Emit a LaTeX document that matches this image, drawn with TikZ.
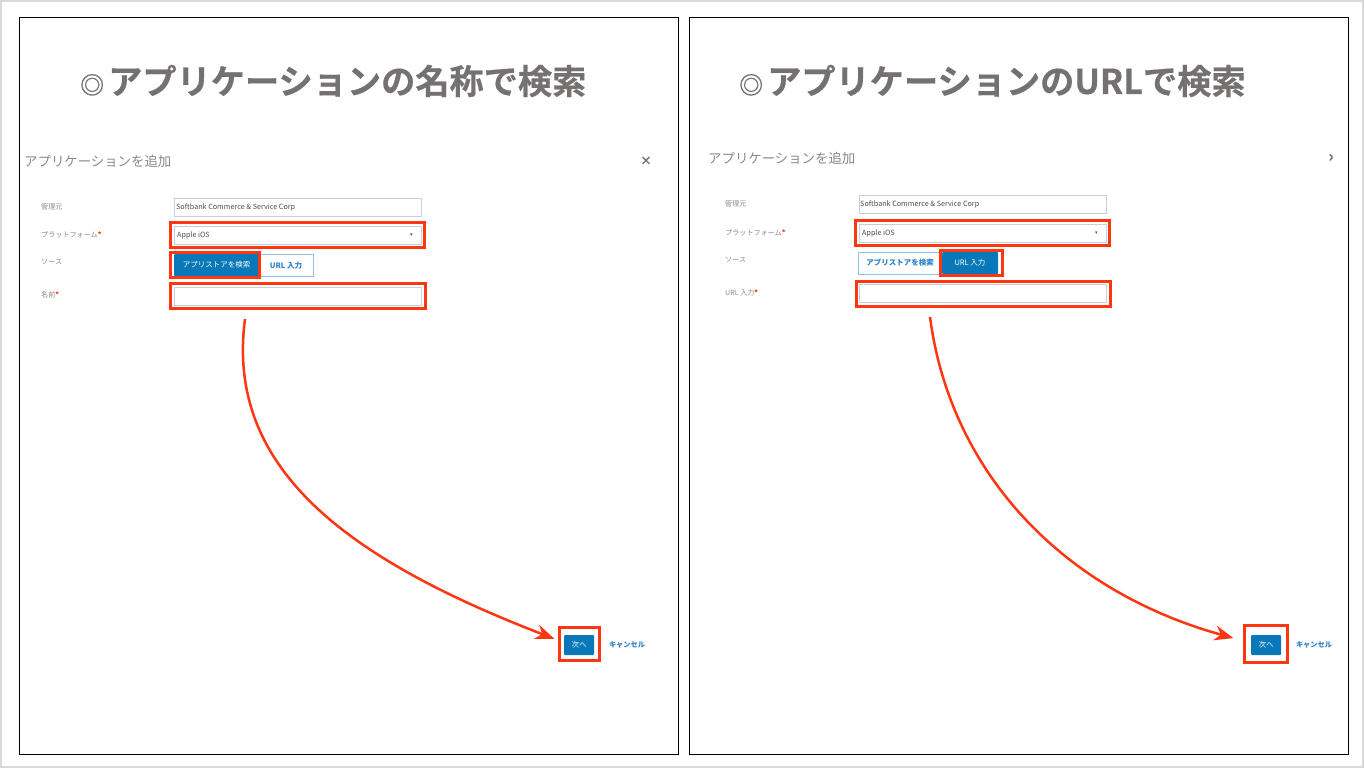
\documentclass[tikz,border=0pt]{standalone}
\usepackage{fontspec}
\setmainfont{Noto Sans CJK JP}
\newfontfamily\symfont{DejaVu Sans}
\newfontfamily\headfont[UprightFont=* Bold,FakeBold=0.5]{Noto Sans CJK JP}
\usetikzlibrary{arrows.meta}
\definecolor{titlegray}{HTML}{767171}
\definecolor{labelgray}{HTML}{8A8A8A}
\definecolor{markred}{HTML}{FF3612}
\definecolor{btnblue}{HTML}{0878B8}
\definecolor{linkblue}{HTML}{2C82C8}
\definecolor{fieldline}{HTML}{C4D0DA}
\begin{document}
\begin{tikzpicture}[x=1pt,y=-1pt,>={Stealth[length=19pt,width=15pt]}]
      \tikzstyle{panel}=[draw=black,line width=1pt,fill=white,inner sep=0pt,minimum width=659pt,minimum height=736pt];
      \tikzstyle{headline}=[text=titlegray,font=\headfont\fontsize{34.2}{34}\selectfont,anchor=west,inner sep=0pt];
      \tikzstyle{dialogtitle}=[text=labelgray,font=\fontsize{13.4}{13}\selectfont,anchor=west,inner sep=0pt];
      \tikzstyle{formlabel}=[text=labelgray,font=\fontsize{7.1}{7}\selectfont,anchor=west,inner sep=0pt];
      \tikzstyle{field}=[draw=fieldline,line width=1pt,fill=white,inner sep=0pt,minimum height=18pt,minimum width=247pt];
      \tikzstyle{fieldtext}=[text=black!70,font=\fontsize{7.2}{7}\selectfont,anchor=west,inner sep=0pt];
      \tikzstyle{bluebtn}=[fill=btnblue,text=white,font=\fontsize{7.5}{7}\selectfont,inner sep=0pt,rounded corners=1pt,minimum height=22pt];
      \tikzstyle{plainbtn}=[draw=linkblue!50,line width=.8pt,fill=white,text=linkblue,font=\fontsize{7.5}{7}\selectfont\bfseries,inner sep=0pt,minimum height=22pt];
      \tikzstyle{linktext}=[text=linkblue,font=\fontsize{7.2}{7}\selectfont\bfseries,inner sep=0pt];
      \tikzstyle{redbox}=[draw=markred,line width=3pt,inner sep=0pt];
      \tikzstyle{flow}=[->,draw=markred,line width=2.5pt];

        \path[draw=black!15,line width=2pt,fill=white] (1,1) rectangle (1363,767);

        % left panel
        \node[panel] (panelL) at (348.5,386) {};
        \node[headline] (headL) at (80,81) {\makebox[28pt][l]{\fontsize{24}{24}\selectfont ◎}アプリケーションの名称で検索};
        \node[dialogtitle] (dialogL) at (24,161) {アプリケーションを追加};
        \node[text=labelgray!80!black,font=\fontsize{12}{12}\selectfont\bfseries,inner sep=0pt] (closeL) at (646,161) {×};
        \node[formlabel] (ownerlabelL) at (41,207) {管理元};
        \node[field] (ownerL) at (297.5,207) {};
        \node[fieldtext] (ownertextL) at (176,207) {Softbank Commerce \& Service Corp};
        \node[formlabel] (platlabelL) at (41,235) {プラットフォーム\textcolor{markred}{\bfseries *}};
        \node[field] (platL) at (297.5,235) {};
        \node[fieldtext] (plattextL) at (177,235) {Apple iOS};
        \node[fieldtext] (dropL) at (410,235) {\symfont\fontsize{5}{5}\selectfont ▾};
        \node[formlabel] (sourcelabelL) at (41,262) {ソース};
        \node[plainbtn,minimum width=54pt] (urlbtnL) at (286,265.5) {URL 入力};
        \node[bluebtn,minimum width=85pt] (storebtnL) at (216.5,265) {アプリストアを検索};
        \node[formlabel] (namelabelL) at (41,295) {名前\textcolor{markred}{\bfseries *}};
        \node[field] (nameL) at (297.5,296) {};
        \node[bluebtn,minimum width=30pt,minimum height=20pt] (nextL) at (579,645) {次へ};
        \node[linktext] (cancelL) at (627,645) {キャンセル};

        \node[redbox,minimum width=254pt,minimum height=25pt] (markplatL) at (297.5,234.5) {};
        \node[redbox,minimum width=89pt,minimum height=25pt] (markstoreL) at (215,264.5) {};
        \node[redbox,minimum width=255pt,minimum height=25pt] (marknameL) at (298,295.5) {};
        \node[redbox,minimum width=40pt,minimum height=33pt] (marknextL) at (579.5,644) {};

        \coordinate (startL) at (245,319);
        \path[flow,shorten >=4pt] (startL) .. controls (225,470) and (350,560) .. (marknextL.170);

        % right panel
        \node[panel] (panelR) at (1018.5,386) {};
        \node[headline] (headR) at (739,81) {\makebox[28pt][l]{\fontsize{24}{24}\selectfont ◎}アプリケーションのURLで検索};
        \node[dialogtitle] (dialogR) at (708,158) {アプリケーションを追加};
        \node[text=labelgray!80!black,font=\fontsize{16}{16}\selectfont\bfseries,inner sep=0pt] (closeR) at (1331,158) {›};
        \node[formlabel] (ownerlabelR) at (725,204) {管理元};
        \node[field] (ownerR) at (982.5,204) {};
        \node[fieldtext] (ownertextR) at (860,204) {Softbank Commerce \& Service Corp};
        \node[formlabel] (platlabelR) at (725,233) {プラットフォーム\textcolor{markred}{\bfseries *}};
        \node[field] (platR) at (982.5,233) {};
        \node[fieldtext] (plattextR) at (862,233) {Apple iOS};
        \node[fieldtext] (dropR) at (1095,233) {\symfont\fontsize{5}{5}\selectfont ▾};
        \node[formlabel] (sourcelabelR) at (725,260) {ソース};
        \node[plainbtn,minimum width=83pt] (storebtnR) at (900,263) {アプリストアを検索};
        \node[bluebtn,minimum width=56pt] (urlbtnR) at (970,263) {URL 入力};
        \node[formlabel] (urllabelR) at (725,293) {URL 入力\textcolor{markred}{\bfseries *}};
        \node[field] (urlR) at (982.5,293.5) {};
        \node[bluebtn,minimum width=30pt,minimum height=20pt] (nextR) at (1266,645) {次へ};
        \node[linktext] (cancelR) at (1314,645) {キャンセル};

        \node[redbox,minimum width=254pt,minimum height=25pt] (markplatR) at (982.5,232.5) {};
        \node[redbox,minimum width=62pt,minimum height=25pt] (markurlR) at (971.5,262.5) {};
        \node[redbox,minimum width=254pt,minimum height=25pt] (markfieldR) at (983,293.5) {};
        \node[redbox,minimum width=43pt,minimum height=37pt] (marknextR) at (1266,644) {};

        \coordinate (startR) at (930,317);
        \path[flow,shorten >=10pt] (startR) .. controls (950,470) and (1060,590) .. (marknextR.172);
    \end{tikzpicture}
\end{document}
